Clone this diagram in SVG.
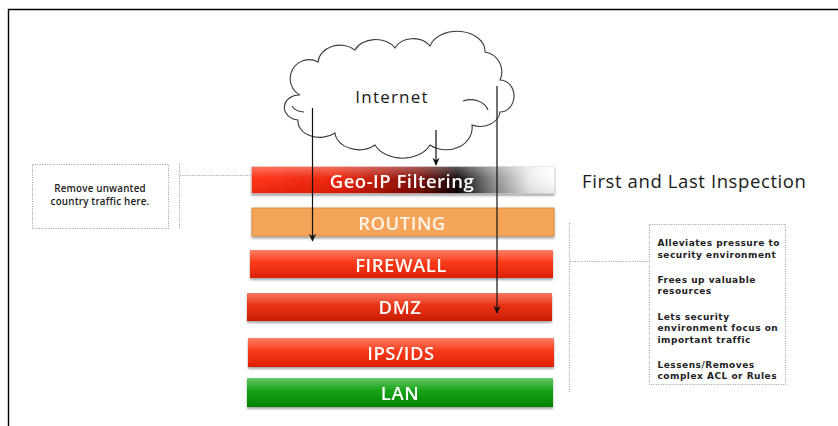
<svg xmlns="http://www.w3.org/2000/svg" width="838" height="426" viewBox="0 0 838 426">
<style>
.bar-label{font-family:"Open Sans","Liberation Sans",sans-serif;font-weight:600;font-size:18.5px;letter-spacing:0.5px;fill:#ffffff;text-anchor:middle}
.note{font-family:"DejaVu Sans","Liberation Sans",sans-serif;font-weight:bold;font-size:9px;letter-spacing:0.5px;fill:#222}
.note-l{font-family:"Open Sans","Liberation Sans",sans-serif;font-weight:600;font-size:9.8px;letter-spacing:0.2px;fill:#1a1a1a;text-anchor:middle}
.dot{fill:none;stroke:#9a9a9a;stroke-width:1.1;stroke-dasharray:1 1.4}
.arrow{fill:none;stroke:#111;stroke-width:1.2;marker-end:url(#ah)}
.bar{filter:url(#sh)}
</style>
<defs>
<marker id="ah" viewBox="0 0 10 10" refX="9" refY="5" markerWidth="8" markerHeight="8" markerUnits="userSpaceOnUse" orient="auto">
<path d="M0,0.5 L10,5 L0,9.5 L3,5 Z" fill="#111"/>
</marker>
<filter id="sh" x="-5%" y="-20%" width="110%" height="160%">
<feDropShadow dx="0" dy="2" stdDeviation="1.2" flood-color="#000" flood-opacity="0.35"/>
</filter>
<linearGradient id="geo" x1="0" y1="0" x2="1" y2="0">
<stop offset="0" stop-color="#ff2a0e"/>
<stop offset="0.3" stop-color="#e81c02"/>
<stop offset="0.55" stop-color="#7a0600"/>
<stop offset="0.68" stop-color="#080000"/>
<stop offset="0.8" stop-color="#8a8a8a"/>
<stop offset="0.92" stop-color="#ececec"/>
<stop offset="1" stop-color="#ffffff"/>
</linearGradient>
<linearGradient id="gloss" x1="0" y1="0" x2="0" y2="1">
<stop offset="0" stop-color="#ffffff" stop-opacity="0.35"/>
<stop offset="0.45" stop-color="#ffffff" stop-opacity="0.05"/>
<stop offset="1" stop-color="#000000" stop-opacity="0.08"/>
</linearGradient>
<linearGradient id="red" x1="0" y1="0" x2="0" y2="1">
<stop offset="0" stop-color="#ff3a16"/>
<stop offset="1" stop-color="#ee2200"/>
</linearGradient>
<linearGradient id="dmzg" x1="0" y1="0" x2="0" y2="1">
<stop offset="0" stop-color="#f23010"/>
<stop offset="1" stop-color="#d81e00"/>
</linearGradient>
<linearGradient id="green" x1="0" y1="0" x2="0" y2="1">
<stop offset="0" stop-color="#12a812"/>
<stop offset="1" stop-color="#008e00"/>
</linearGradient>
</defs>
<rect width="838" height="426" fill="#ffffff"/>
<path d="M8.5,426 L8.5,9.5 L838,9.5" fill="none" stroke="#000" stroke-width="1.4"/>

<g id="cloud">
<path d="M300,95 A18,18 0 0 1 318,62 A22,18 0 0 1 355,50 A22,16 0 0 1 395,48 A20,16 0 0 1 430,46 A28,20 0 0 1 485,52 A20,20 0 0 1 500,80 A14,16 0 0 1 500,112 A20,16 0 0 1 472,125 A26,22 0 0 1 430,145 A30,22 0 0 1 375,145 A24,18 0 0 1 335,133 A22,16 0 0 1 298,120 A14,12 0 0 1 300,95 Z" fill="#ffffff" stroke="#3a3a3a" stroke-width="1.1"/>
<path d="M292,106 A14,10 0 0 0 304,112" fill="none" stroke="#3a3a3a" stroke-width="1.1"/>
<path d="M463,101 A18,14 0 0 1 488,110" fill="none" stroke="#3a3a3a" stroke-width="1.1"/>
<text x="392" y="103" font-family="'Open Sans','Liberation Sans',sans-serif" font-size="17" letter-spacing="1.2" fill="#1a1a1a" text-anchor="middle">Internet</text>
</g>

<g id="geoip" class="bar">
<rect x="251.5" y="166.5" width="303" height="27" fill="url(#geo)" stroke="#d8d8d8" stroke-width="0.6"/>
<rect x="251.5" y="166.5" width="303" height="27" fill="url(#gloss)"/>
<text class="bar-label" x="402" y="188">Geo-IP Filtering</text>
</g>

<g id="routing" class="bar">
<rect x="252" y="208" width="302" height="28" fill="#f5a55a" stroke="#d98a3c" stroke-width="1"/>
<text class="bar-label" x="402" y="229.5" style="fill:#fff4ea">ROUTING</text>
</g>

<g id="firewall" class="bar">
<rect x="250" y="250" width="303" height="28" fill="url(#red)"/>
<rect x="250" y="250" width="303" height="28" fill="url(#gloss)"/>
<text class="bar-label" x="401" y="271.5">FIREWALL</text>
</g>

<g id="dmz" class="bar">
<rect x="247" y="293" width="305" height="28" fill="url(#dmzg)"/>
<rect x="247" y="293" width="305" height="28" fill="url(#gloss)"/>
<text class="bar-label" x="400" y="314">DMZ</text>
</g>

<g id="ipsids" class="bar">
<rect x="248" y="338" width="306" height="29" fill="url(#red)"/>
<rect x="248" y="338" width="306" height="29" fill="url(#gloss)"/>
<text class="bar-label" x="401" y="359.5">IPS/IDS</text>
</g>

<g id="lan" class="bar">
<rect x="247" y="378" width="306" height="29" fill="url(#green)"/>
<rect x="247" y="378" width="306" height="29" fill="url(#gloss)"/>
<text class="bar-label" x="400" y="399.5">LAN</text>
</g>

<g id="note-left">
<rect class="dot" x="32.5" y="164.5" width="136" height="64"/>
<text class="note-l" x="100" y="192">Remove unwanted</text>
<text class="note-l" x="100" y="205">country traffic here.</text>
</g>

<g id="note-right">
<rect class="dot" x="649.5" y="224.5" width="136" height="160"/>
<text class="note" x="657.5" y="246">Alleviates pressure to</text>
<text class="note" x="657.5" y="257.5">security environment</text>
<text class="note" x="657.5" y="282.5">Frees up valuable</text>
<text class="note" x="657.5" y="294">resources</text>
<text class="note" x="657.5" y="319.5">Lets security</text>
<text class="note" x="657.5" y="331">environment focus on</text>
<text class="note" x="657.5" y="342.5">important traffic</text>
<text class="note" x="657.5" y="367.5">Lessens/Removes</text>
<text class="note" x="657.5" y="379">complex ACL or Rules</text>
</g>

<g id="inspection-label">
<text x="582" y="188" font-family="'Open Sans','Liberation Sans',sans-serif" font-size="18.5" letter-spacing="0.6" fill="#1a1a1a">First and Last Inspection</text>
</g>

<g id="connectors">
<line class="dot" x1="179.5" y1="164" x2="179.5" y2="229"/>
<line class="dot" x1="180" y1="175.5" x2="251" y2="175.5"/>
<line class="dot" x1="569.5" y1="223" x2="569.5" y2="392"/>
<line class="dot" x1="570" y1="261.5" x2="649" y2="261.5"/>
<line class="arrow" x1="312.5" y1="108" x2="312.5" y2="241"/>
<line class="arrow" x1="436" y1="130" x2="436" y2="165"/>
<line class="arrow" x1="497" y1="86" x2="497" y2="313"/>
</g>
</svg>
